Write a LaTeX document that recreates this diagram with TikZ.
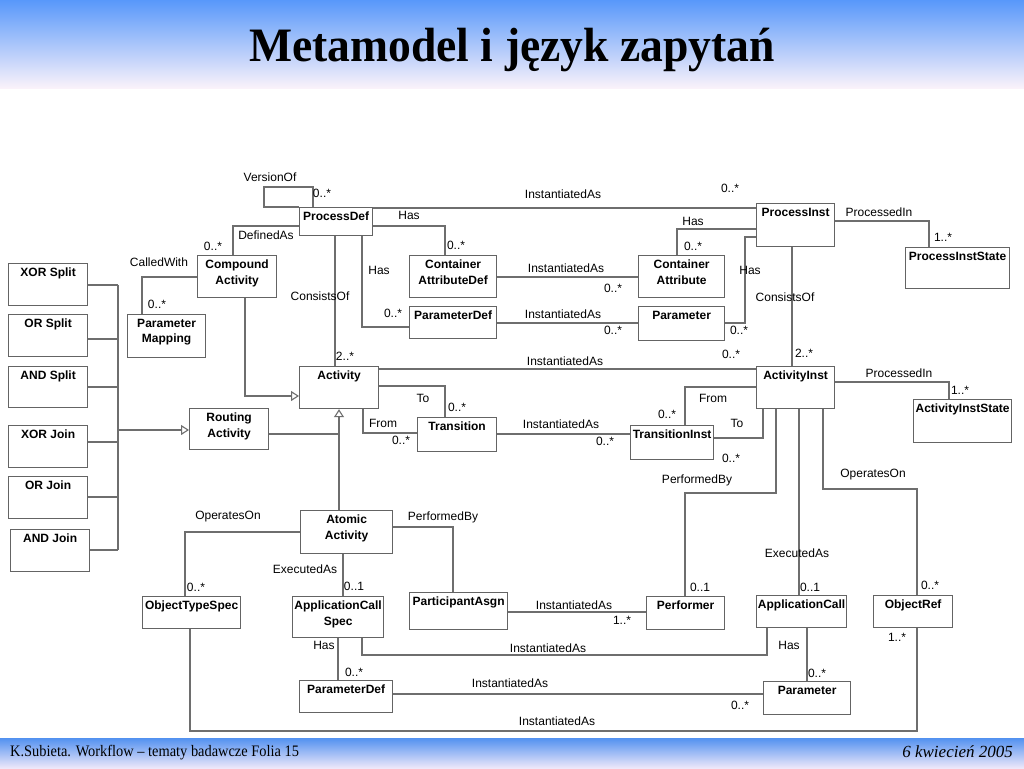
\documentclass[tikz,border=0pt]{standalone}
\usepackage{fontspec}
\usepackage{graphicx}
\setmainfont{Liberation Sans}
\newfontfamily\serifft{Liberation Serif}
\usetikzlibrary{arrows.meta}
\definecolor{lc}{RGB}{110,110,110}
\definecolor{bc}{RGB}{100,100,100}
\definecolor{hbtop}{RGB}{88,152,250}
\definecolor{hbbot}{RGB}{250,242,250}
\definecolor{fbtop}{RGB}{82,145,240}
\definecolor{fbbot}{RGB}{238,232,250}
\newcommand{\umlbox}[5]{%
  \node[box, minimum width=#3pt, minimum height=#4pt] (#1) at (#2) {};
  \node[boxtext] (#1-txt) at ([yshift=-4pt]#1.north) {#5};}
\begin{document}
\begin{tikzpicture}[x=1pt,y=-1pt,
  box/.style={draw=bc, line width=1.2pt, rectangle, inner sep=0pt, anchor=north west, fill=white},
  boxtext/.style={anchor=north, inner sep=1pt, font=\fontsize{12}{15.5}\selectfont\bfseries, align=center},
  lab/.style={font=\fontsize{12}{14}\selectfont, inner sep=0pt},
  conn/.style={draw=lc, line width=1.1pt},
  gen/.style={conn, -{Triangle[open, length=8pt, width=10pt, fill=white]}}
]
\useasboundingbox (0,0) rectangle (1024,768);
\fill[white] (0,0) rectangle (1024,768);
% header / footer bands
\shade[top color=hbtop, bottom color=hbbot] (0,0) rectangle (1024,88);
\shade[top color=fbtop, bottom color=fbbot] (0,738) rectangle (1024,768);
\node[font=\serifft\bfseries\fontsize{48}{56}\selectfont, inner sep=0pt, anchor=base] (title) at (512,62) {\scalebox{0.95}[1]{Metamodel i język zapytań}};
\node[font=\serifft\fontsize{16}{18}\selectfont, anchor=west, inner sep=0pt] (foot) at (10,753) {\scalebox{0.9}[1]{K.Subieta. Workflow – tematy badawcze Folia 15}};
\node[font=\serifft\itshape\fontsize{17}{19}\selectfont, anchor=east, inner sep=0pt] (date) at (1013,752) {6 kwiecień 2005};

\coordinate (gj) at (339,434);
\coordinate (bustop) at (118,285);
\coordinate (busbot) at (118,550);
\coordinate (busmid) at (118,430);

% boxes
\umlbox{pd}{299,207}{73}{28}{ProcessDef}
\umlbox{pi}{756,203}{78}{43}{ProcessInst}
\umlbox{pis}{905,247}{104}{41}{ProcessInstState}
\umlbox{cad}{409,255}{87}{42}{Container\\AttributeDef}
\umlbox{ca}{638,255}{86}{42}{Container\\Attribute}
\umlbox{pdef}{409,306}{87}{32}{ParameterDef}
\umlbox{par}{638,306}{86}{34}{Parameter}
\umlbox{cpa}{197,255}{79}{42}{Compound\\Activity}
\umlbox{pm}{127,314}{78}{43}{Parameter\\Mapping}
\umlbox{act}{299,366}{79}{42}{Activity}
\umlbox{ai}{756,366}{78}{42}{ActivityInst}
\umlbox{ais}{913,399}{98}{43}{ActivityInstState}
\umlbox{tr}{417,417}{79}{34}{Transition}
\umlbox{ti}{630,425}{83}{34}{TransitionInst}
\umlbox{ra}{189,408}{79}{41}{Routing\\Activity}
\umlbox{xs}{8,263}{79}{42}{XOR Split}
\umlbox{osp}{8,314}{79}{42}{OR Split}
\umlbox{asp}{8,366}{79}{41}{AND Split}
\umlbox{xj}{8,425}{79}{42}{XOR Join}
\umlbox{oj}{8,476}{79}{42}{OR Join}
\umlbox{aj}{10,529}{79}{42}{AND Join}
\umlbox{aa}{300,510}{92}{43}{Atomic\\Activity}
\umlbox{ots}{142,596}{98}{32}{ObjectTypeSpec}
\umlbox{acs}{292,596}{91}{41}{ApplicationCall\\Spec}
\umlbox{pa}{409,592}{98}{37}{ParticipantAsgn}
\umlbox{perf}{646,596}{78}{33}{Performer}
\umlbox{ac}{756,595}{90}{32}{ApplicationCall}
\umlbox{orf}{873,595}{79}{32}{ObjectRef}
\umlbox{pdefb}{299,680}{93}{32}{ParameterDef}
\umlbox{parb}{763,681}{87}{33}{Parameter}

% VersionOf self loop
\draw[conn] (pd.north west) -- ++(-35,0) -- ++(0,-20) -- ++(49,0) -- ++(0,20);
% ProcessDef relations
\draw[conn] (pd.east |- 0,208) -- (pi.west |- 0,208);
\draw[conn] (pd.east |- 0,226) -| (445,0 |- cad.north);
\draw[conn] (pd.west |- 0,226) -| (233,0 |- cpa.north);
\draw[conn] (cpa.west |- 0,277) -| (142,0 |- pm.north);
\draw[conn] (335,0 |- pd.south) -- (335,0 |- act.north);
\draw[conn] (362,0 |- pd.south) |- (pdef.west |- 0,327);
\draw[conn] (cad.east |- 0,277) -- (ca.west |- 0,277);
\draw[conn] (pdef.east |- 0,323) -- (par.west |- 0,323);
% ProcessInst relations
\draw[conn] (pi.west |- 0,229) -| (677,0 |- ca.north);
\draw[conn] (pi.west |- 0,237) -| (745,323) -- (par.east |- 0,323);
\draw[conn] (pi.east |- 0,221) -| (929,0 |- pis.north);
\draw[conn] (792,0 |- pi.south) -- (792,0 |- ai.north);
\draw[conn] (act.east |- 0,369) -- (ai.west |- 0,369);
% generalisations
\draw[gen] (245,0 |- cpa.south) |- (act.west |- 0,396);
\draw[gen] (339,0 |- aa.north) -- (339,0 |- act.south);
\draw[conn] (ra.east |- 0,434) -- (gj);
% transitions
\draw[conn] (act.east |- 0,386) -| (445,0 |- tr.north);
\draw[conn] (363,0 |- act.south) |- (tr.west |- 0,433);
\draw[conn] (tr.east |- 0,434) -- (ti.west |- 0,434);
\draw[conn] (ai.west |- 0,387) -| (685,0 |- ti.north);
\draw[conn] (ti.east |- 0,438) -| (763,0 |- ai.south);
\draw[conn] (ai.east |- 0,382) -| (949,0 |- ais.north);
% routing bus
\draw[conn] (bustop) -- (busbot);
\draw[conn] (xs.east |- 0,285) -- (bustop);
\draw[conn] (osp.east |- 0,339) -- (118,339);
\draw[conn] (asp.east |- 0,387) -- (118,387);
\draw[conn] (xj.east |- 0,442) -- (118,442);
\draw[conn] (oj.east |- 0,497) -- (118,497);
\draw[conn] (aj.east |- 0,550) -- (busbot);
\draw[gen] (busmid) -- (ra.west |- 0,430);
% atomic activity
\draw[conn] (aa.west |- 0,532) -| (185,0 |- ots.north);
\draw[conn] (343,0 |- aa.south) -- (343,0 |- acs.north);
\draw[conn] (aa.east |- 0,527) -| (453,0 |- pa.north);
\draw[conn] (pa.east |- 0,612) -- (perf.west |- 0,612);
\draw[conn] (362,0 |- acs.south) -- (362,655) -| (767,0 |- ac.south);
\draw[conn] (338,0 |- acs.south) -- (338,0 |- pdefb.north);
\draw[conn] (pdefb.east |- 0,694) -- (parb.west |- 0,694);
\draw[conn] (190,0 |- ots.south) -- (190,731) -| (917,0 |- orf.south);
% activity inst
\draw[conn] (776,0 |- ai.south) -- (776,493) -| (685,0 |- perf.north);
\draw[conn] (799,0 |- ai.south) -- (799,0 |- ac.north);
\draw[conn] (823,0 |- ai.south) -- (823,489) -| (917,0 |- orf.north);
\draw[conn] (807,0 |- ac.south) -- (807,0 |- parb.north);

% labels
\node[lab] (l1) at (270,177) {VersionOf};
\node[lab] (l2) at (322,193) {0..*};
\node[lab] (l3) at (563,194) {InstantiatedAs};
\node[lab] (l4) at (730,188) {0..*};
\node[lab] (l5) at (409,215) {Has};
\node[lab] (l6) at (456,245) {0..*};
\node[lab] (l7) at (266,235) {DefinedAs};
\node[lab] (l8) at (213,246) {0..*};
\node[lab] (l9) at (159,262) {CalledWith};
\node[lab] (l10) at (157,304) {0..*};
\node[lab] (l11) at (320,296) {ConsistsOf};
\node[lab] (l12) at (345,356) {2..*};
\node[lab] (l13) at (379,270) {Has};
\node[lab] (l14) at (393,313) {0..*};
\node[lab] (l15) at (879,212) {ProcessedIn};
\node[lab] (l16) at (943,237) {1..*};
\node[lab] (l17) at (693,221) {Has};
\node[lab] (l18) at (693,246) {0..*};
\node[lab] (l19) at (566,268) {InstantiatedAs};
\node[lab] (l20) at (613,288) {0..*};
\node[lab] (l21) at (563,314) {InstantiatedAs};
\node[lab] (l22) at (613,330) {0..*};
\node[lab] (l23) at (750,270) {Has};
\node[lab] (l24) at (739,330) {0..*};
\node[lab] (l25) at (785,297) {ConsistsOf};
\node[lab] (l26) at (804,353) {2..*};
\node[lab] (l27) at (565,361) {InstantiatedAs};
\node[lab] (l28) at (731,354) {0..*};
\node[lab] (l29) at (899,373) {ProcessedIn};
\node[lab] (l30) at (960,390) {1..*};
\node[lab] (l31) at (713,398) {From};
\node[lab] (l32) at (667,414) {0..*};
\node[lab] (l33) at (737,423) {To};
\node[lab] (l34) at (731,458) {0..*};
\node[lab] (l35) at (697,480) {PerformedBy};
\node[lab] (l36) at (797,553) {ExecutedAs};
\node[lab] (l37) at (873,475) {OperatesOn};
\node[lab] (l38) at (423,398) {To};
\node[lab] (l39) at (457,407) {0..*};
\node[lab] (l40) at (383,423) {From};
\node[lab] (l41) at (401,440) {0..*};
\node[lab] (l42) at (561,424) {InstantiatedAs};
\node[lab] (l43) at (605,441) {0..*};
\node[lab] (l44) at (228,517) {OperatesOn};
\node[lab] (l45) at (196,587) {0..*};
\node[lab] (l46) at (305,569) {ExecutedAs};
\node[lab] (l47) at (354,586) {0..1};
\node[lab] (l48) at (443,517) {PerformedBy};
\node[lab] (l49) at (574,605) {InstantiatedAs};
\node[lab] (l50) at (622,620) {1..*};
\node[lab] (l51) at (548,648) {InstantiatedAs};
\node[lab] (l52) at (324,645) {Has};
\node[lab] (l53) at (354,672) {0..*};
\node[lab] (l54) at (510,683) {InstantiatedAs};
\node[lab] (l55) at (557,721) {InstantiatedAs};
\node[lab] (l56) at (700,587) {0..1};
\node[lab] (l57) at (810,587) {0..1};
\node[lab] (l58) at (789,645) {Has};
\node[lab] (l59) at (817,673) {0..*};
\node[lab] (l60) at (740,705) {0..*};
\node[lab] (l61) at (930,585) {0..*};
\node[lab] (l62) at (897,637) {1..*};
\end{tikzpicture}
\end{document}
